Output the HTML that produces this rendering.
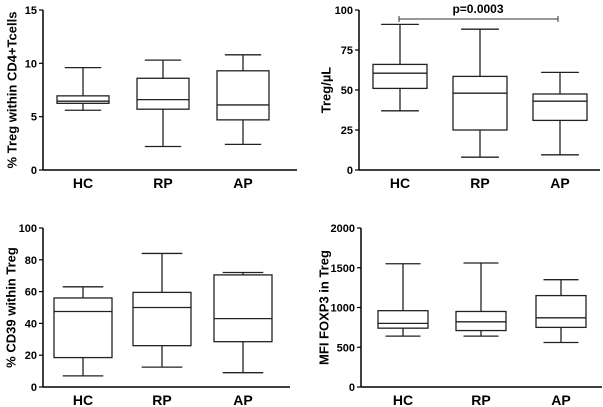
<!DOCTYPE html>
<html><head><meta charset="utf-8"><style>
html,body{margin:0;padding:0;background:#fff}
svg{display:block;font-family:"Liberation Sans",Arial,sans-serif;font-weight:bold}
</style></head><body>
<svg id="c" width="603" height="407" viewBox="0 0 603 407"></svg>
<script>
const categories = ["HC","RP","AP"];
const p1Stats = [[5.6,6.25,6.45,6.95,9.6],[2.2,5.7,6.6,8.6,10.3],[2.4,4.7,6.1,9.3,10.8]];
const p2Stats = [[37,51,60.5,66,91],[8,25,48,58.5,88],[9.5,31,43,47.5,61]];
const p3Stats = [[7,18.5,47.5,56,63],[12.5,26,50,59.5,84],[9,28.5,43,70.5,72]];
const p4Stats = [[640,740,800,960,1550],[640,710,820,950,1560],[560,750,870,1150,1350]];
const p1Ticks = [0,5,10,15];
const p2Ticks = [0,25,50,75,100];
const p3Ticks = [0,20,40,60,80,100];
const p4Ticks = [0,500,1000,1500,2000];
const pValueText = "p=0.0003";

const svg = document.getElementById('c');
const NS = "http://www.w3.org/2000/svg";
function mk(tag, attrs, parent){ const e=document.createElementNS(NS,tag); for(const k in attrs) e.setAttribute(k,attrs[k]); (parent||svg).appendChild(e); return e; }

const panels = [
  {id:'treg-pct', stats:p1Stats, ticks:p1Ticks, max:15, ax:43, top:10, bot:170, xend:297, cx:[83,163,243], bw:52, label:'% Treg within CD4+Tcells', lx:13},
  {id:'treg-count', stats:p2Stats, ticks:p2Ticks, max:100, ax:359, top:10, bot:170, xend:600, cx:[400,480,560], bw:54, label:'Treg/µL', lx:327},
  {id:'cd39', stats:p3Stats, ticks:p3Ticks, max:100, ax:43, top:228, bot:387, xend:290, cx:[83,162,243], bw:58, label:'% CD39 within Treg', lx:12},
  {id:'foxp3', stats:p4Stats, ticks:p4Ticks, max:2000, ax:361, top:228, bot:387, xend:602, cx:[403,481,561], bw:50, label:'MFI FOXP3 in Treg', lx:325}
];
panels.forEach(p=>{
  const g = mk('g',{});
  
  
  const y = v => p.bot - (v/p.max)*(p.bot-p.top);
  const ya = mk('line',{x1:p.ax,y1:p.top,x2:p.ax,y2:p.bot,stroke:'#000','stroke-width':1.5},g);
   
  const xa = mk('line',{x1:p.ax,y1:p.bot,x2:p.xend,y2:p.bot,stroke:'#000','stroke-width':1.5},g);
   
  p.ticks.forEach(t=>{
    mk('line',{x1:p.ax-4,y1:y(t),x2:p.ax,y2:y(t),stroke:'#000','stroke-width':1.2},g);
    const tx = mk('text',{x:p.ax-6,y:y(t)+4,'text-anchor':'end','font-size':11},g);
    tx.textContent = t;
     
  });
  const yl = mk('text',{x:p.lx,y:(p.top+p.bot)/2,'text-anchor':'middle','font-size':13,transform:`rotate(-90 ${p.lx} ${(p.top+p.bot)/2})`,'dominant-baseline':'middle'},g);
  yl.textContent = p.label;
   
  categories.forEach((c,i)=>{
    const s = p.stats[i], cx = p.cx[i], hw = p.bw/2, cw = p.bw*0.35;
    const bg = mk('g',{stroke:'#222','stroke-width':1.3,fill:'none'},g);
     
    mk('line',{x1:cx,y1:y(s[0]),x2:cx,y2:y(s[1])},bg);
    mk('line',{x1:cx,y1:y(s[3]),x2:cx,y2:y(s[4])},bg);
    mk('line',{x1:cx-cw,y1:y(s[0]),x2:cx+cw,y2:y(s[0])},bg);
    mk('line',{x1:cx-cw,y1:y(s[4]),x2:cx+cw,y2:y(s[4])},bg);
    mk('rect',{x:cx-hw,y:y(s[3]),width:p.bw,height:y(s[1])-y(s[3]),fill:'#fff'},bg);
    mk('line',{x1:cx-hw,y1:y(s[2]),x2:cx+hw,y2:y(s[2])},bg);
    const cl = mk('text',{x:cx,y:p.bot+18,'text-anchor':'middle','font-size':14},g);
    cl.textContent = c;
     
  });
  if(p.id==='treg-count'){
    const yb = 19;
    const br = mk('g',{stroke:'#333','stroke-width':1},g);
     
    mk('line',{x1:p.cx[0]-1,y1:yb,x2:p.cx[2]-2,y2:yb},br);
    mk('line',{x1:p.cx[0]-1,y1:yb-3,x2:p.cx[0]-1,y2:yb+3},br);
    mk('line',{x1:p.cx[2]-2,y1:yb-3,x2:p.cx[2]-2,y2:yb+3},br);
    const pt = mk('text',{x:478,y:13,'text-anchor':'middle','font-size':12},g);
    pt.textContent = pValueText;
     
  }
});
</script>
</body></html>
